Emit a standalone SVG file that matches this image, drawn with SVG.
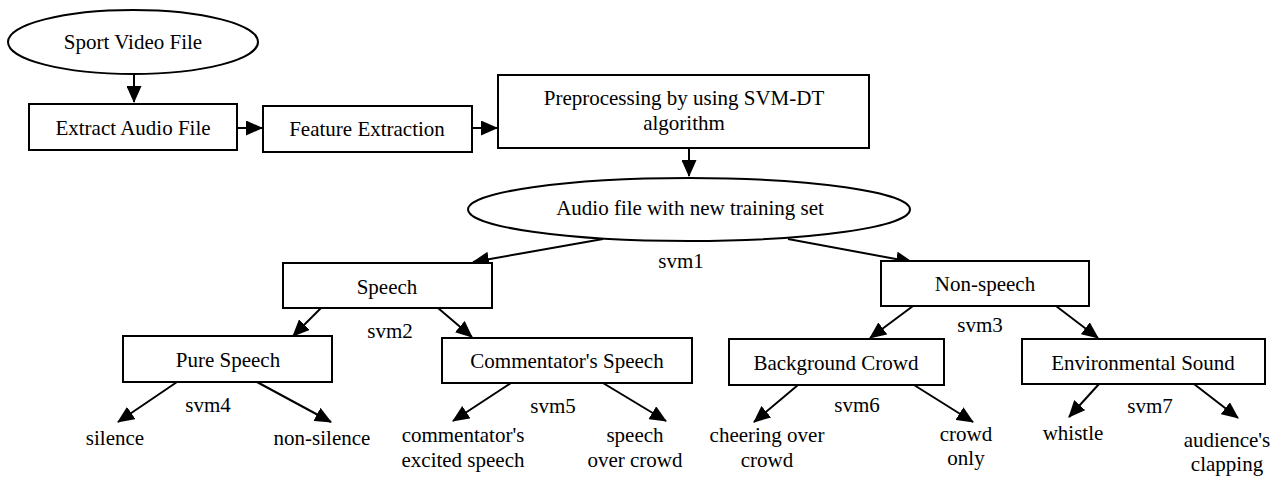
<svg xmlns="http://www.w3.org/2000/svg" width="1278" height="477" viewBox="0 0 1278 477" font-family="'Liberation Serif', 'Times New Roman', 'DejaVu Serif', serif">
  <style>
    .box { fill: #ffffff; stroke: #000000; stroke-width: 2; }
    .edge { fill: none; stroke: #000000; stroke-width: 2; marker-end: url(#arrow); }
    text { font-family: 'Liberation Serif', 'Times New Roman', 'DejaVu Serif', serif; font-size: 21px; fill: #000000; text-anchor: middle; }
  </style>
  <defs>
    <marker id="arrow" markerUnits="userSpaceOnUse" markerWidth="17" markerHeight="15" refX="16" refY="7.5" orient="auto">
      <path d="M0,0 L17,7.5 L0,15 z" fill="#000000"/>
    </marker>
  </defs>
  <rect width="1278" height="477" fill="#ffffff"/>

  <!-- connectors -->
  <g id="connectors">
    <line class="edge" x1="134" y1="74" x2="134" y2="102"/>
    <line class="edge" x1="237" y1="128" x2="262" y2="128"/>
    <line class="edge" x1="472" y1="128" x2="497" y2="128"/>
    <line class="edge" x1="689" y1="148" x2="689" y2="176"/>
    <line class="edge" x1="603" y1="239" x2="473" y2="262"/>
    <line class="edge" x1="788" y1="239" x2="912" y2="262"/>
    <line class="edge" x1="321" y1="308" x2="293" y2="336"/>
    <line class="edge" x1="438" y1="308" x2="472" y2="337"/>
    <line class="edge" x1="913" y1="306" x2="870" y2="338"/>
    <line class="edge" x1="1056" y1="306" x2="1098" y2="338"/>
    <line class="edge" x1="177" y1="382" x2="118" y2="422"/>
    <line class="edge" x1="257" y1="382" x2="331" y2="422"/>
    <line class="edge" x1="511" y1="383" x2="453" y2="421"/>
    <line class="edge" x1="603" y1="383" x2="666" y2="421"/>
    <line class="edge" x1="798" y1="385" x2="754" y2="422"/>
    <line class="edge" x1="914" y1="385" x2="973" y2="422"/>
    <line class="edge" x1="1099" y1="384" x2="1069" y2="417"/>
    <line class="edge" x1="1194" y1="384" x2="1238" y2="418"/>
  </g>

  <!-- edge labels -->
  <g id="edge-labels">
    <text x="681" y="268">svm1</text>
    <text x="390" y="338">svm2</text>
    <text x="980" y="332">svm3</text>
    <text x="208" y="412">svm4</text>
    <text x="553" y="413">svm5</text>
    <text x="857" y="412">svm6</text>
    <text x="1150" y="413">svm7</text>
  </g>

  <g id="sport-video-file">
    <ellipse class="box" cx="133" cy="42" rx="125" ry="32"/>
    <text x="133" y="49">Sport Video File</text>
  </g>
  <g id="extract-audio-file">
    <rect class="box" x="29" y="104" width="208" height="46"/>
    <text x="133" y="135">Extract Audio File</text>
  </g>
  <g id="feature-extraction">
    <rect class="box" x="263" y="106" width="209" height="46"/>
    <text x="367" y="136">Feature Extraction</text>
  </g>
  <g id="preprocessing">
    <rect class="box" x="498" y="75" width="371" height="73"/>
    <text x="684" y="105">Preprocessing by using SVM-DT</text>
    <text x="684" y="130">algorithm</text>
  </g>
  <g id="audio-training-set">
    <ellipse class="box" cx="689" cy="209.5" rx="221" ry="31.5"/>
    <text x="690" y="215">Audio file with new training set</text>
  </g>
  <g id="speech">
    <rect class="box" x="283" y="263" width="209" height="45"/>
    <text x="387" y="294">Speech</text>
  </g>
  <g id="non-speech">
    <rect class="box" x="881" y="261" width="208" height="45"/>
    <text x="985" y="291">Non-speech</text>
  </g>
  <g id="pure-speech">
    <rect class="box" x="123" y="336" width="209" height="46"/>
    <text x="228" y="367">Pure Speech</text>
  </g>
  <g id="commentator-speech">
    <rect class="box" x="442" y="338" width="250" height="45"/>
    <text x="567" y="368">Commentator's Speech</text>
  </g>
  <g id="background-crowd">
    <rect class="box" x="729" y="339" width="215" height="46"/>
    <text x="836" y="370">Background Crowd</text>
  </g>
  <g id="environmental-sound">
    <rect class="box" x="1022" y="339" width="243" height="45"/>
    <text x="1143" y="370">Environmental Sound</text>
  </g>
  <g id="silence">
    <text x="115" y="445">silence</text>
  </g>
  <g id="non-silence">
    <text x="322" y="445">non-silence</text>
  </g>
  <g id="commentator-excited">
    <text x="463" y="442">commentator's</text>
    <text x="463" y="467">excited speech</text>
  </g>
  <g id="speech-over-crowd">
    <text x="635" y="442">speech</text>
    <text x="635" y="467">over crowd</text>
  </g>
  <g id="cheering-over-crowd">
    <text x="767" y="442">cheering over</text>
    <text x="767" y="467">crowd</text>
  </g>
  <g id="crowd-only">
    <text x="966" y="441">crowd</text>
    <text x="966" y="465">only</text>
  </g>
  <g id="whistle">
    <text x="1073" y="440">whistle</text>
  </g>
  <g id="audience-clapping">
    <text x="1227" y="447">audience's</text>
    <text x="1227" y="471">clapping</text>
  </g>
</svg>
